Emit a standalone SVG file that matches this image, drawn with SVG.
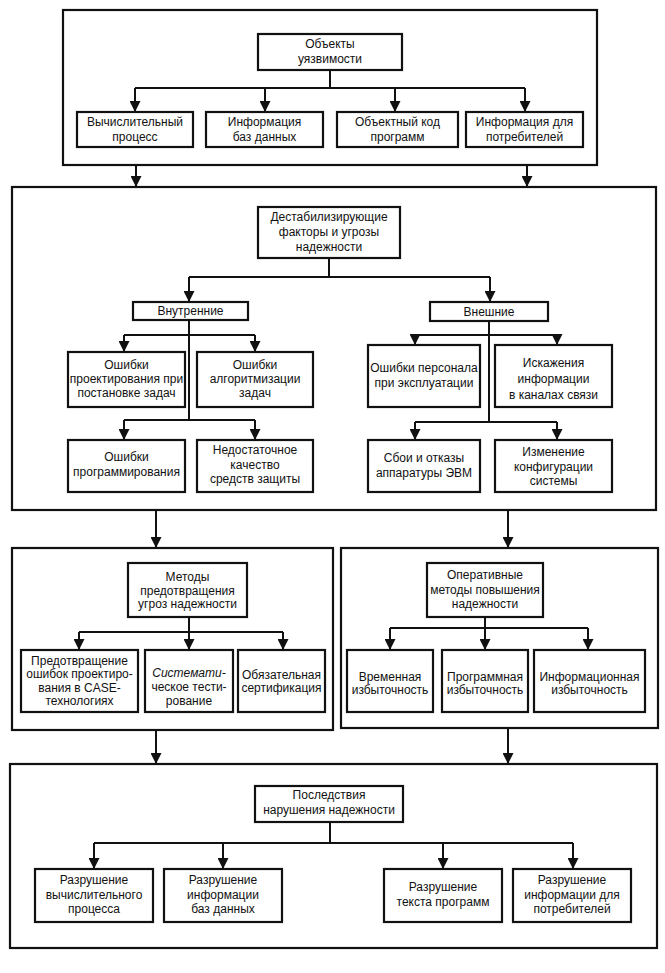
<svg xmlns="http://www.w3.org/2000/svg" width="665" height="973" viewBox="0 0 665 973">
<defs>
<marker id="ah" markerUnits="userSpaceOnUse" markerWidth="11" markerHeight="11" refX="11" refY="5.5" orient="auto" viewBox="0 0 11 11"><path d="M0,0 L11,5.5 L0,11 z" fill="#111"/></marker>
</defs>
<style>
.frame{fill:none;stroke:#111;stroke-width:2.2}
.box{fill:#fff;stroke:#111;stroke-width:2.2}
.t{font-family:"Liberation Sans",Arial,sans-serif;font-size:12px;fill:#111;text-anchor:middle}
.c{fill:none;stroke:#111;stroke-width:2}
.a{fill:none;stroke:#111;stroke-width:2;marker-end:url(#ah)}
.i{font-style:italic}
</style>
<rect width="665" height="973" fill="#fff"/>

<g id="frame-objects"><rect class="frame" x="63" y="10" width="534" height="155"/></g>
<g id="frame-factors"><rect class="frame" x="12" y="187" width="644" height="323"/></g>
<g id="frame-prevention"><rect class="frame" x="12" y="548" width="321" height="182"/></g>
<g id="frame-operative"><rect class="frame" x="341" y="548" width="317" height="180"/></g>
<g id="frame-consequences"><rect class="frame" x="10" y="764" width="647" height="184"/></g>

<g id="connectors">
<path class="c" d="M330,70 V88 M135,88 H525"/>
<path class="a" d="M135,88 V112"/><path class="a" d="M265,88 V112"/><path class="a" d="M395,88 V112"/><path class="a" d="M525,88 V112"/>
<path class="a" d="M136,165 V187"/><path class="a" d="M527,165 V187"/>

<path class="c" d="M329,258 V277 M189,277 H490"/>
<path class="a" d="M189,277 V302"/><path class="a" d="M490,277 V302"/>
<path class="c" d="M189,320 V420 M124,335 H255 M124,420 H255"/>
<path class="a" d="M124,335 V352"/><path class="a" d="M255,335 V352"/>
<path class="a" d="M124,420 V440"/><path class="a" d="M255,420 V440"/>
<path class="c" d="M489,321 V422 M415,335 H557 M415,422 H557"/>
<path class="a" d="M415,335 V345"/><path class="a" d="M557,335 V345"/>
<path class="a" d="M415,422 V440"/><path class="a" d="M557,422 V440"/>
<path class="a" d="M156,510 V548"/><path class="a" d="M508,510 V548"/>

<path class="c" d="M189,617 V632 M79,632 H283"/>
<path class="a" d="M79,632 V650"/><path class="a" d="M189,632 V650"/><path class="a" d="M283,632 V650"/>
<path class="c" d="M485,617 V628 M390,628 H588"/>
<path class="a" d="M390,628 V650"/><path class="a" d="M485,628 V650"/><path class="a" d="M588,628 V650"/>
<path class="a" d="M156,730 V764"/><path class="a" d="M508,728 V764"/>

<path class="c" d="M330,822 V843 M94,843 H573"/>
<path class="a" d="M94,843 V869"/><path class="a" d="M223,843 V869"/><path class="a" d="M443,843 V869"/><path class="a" d="M573,843 V869"/>
</g>

<g id="n-objects"><rect class="box" x="258" y="34" width="144" height="36"/><text class="t" x="330" y="48">Объекты</text><text class="t" x="330" y="63">уязвимости</text></g>
<g id="n-process"><rect class="box" x="77" y="112" width="116" height="35"/><text class="t" x="135" y="126">Вычислительный</text><text class="t" x="135" y="141">процесс</text></g>
<g id="n-db"><rect class="box" x="206" y="112" width="117" height="35"/><text class="t" x="264.5" y="126">Информация</text><text class="t" x="264.5" y="141">баз данных</text></g>
<g id="n-code"><rect class="box" x="337" y="112" width="121" height="35"/><text class="t" x="397.5" y="126">Объектный код</text><text class="t" x="397.5" y="141">программ</text></g>
<g id="n-consumers"><rect class="box" x="466" y="112" width="117" height="35"/><text class="t" x="524.5" y="126">Информация для</text><text class="t" x="524.5" y="141">потребителей</text></g>

<g id="n-destab"><rect class="box" x="258" y="207" width="142" height="51"/><text class="t" x="329" y="221">Дестабилизирующие</text><text class="t" x="329" y="236">факторы и угрозы</text><text class="t" x="329" y="251">надежности</text></g>
<g id="n-internal"><rect class="box" x="133" y="302" width="115" height="18"/><text class="t" x="190.5" y="315">Внутренние</text></g>
<g id="n-external"><rect class="box" x="430" y="302" width="118" height="19"/><text class="t" x="489" y="316">Внешние</text></g>
<g id="n-design"><rect class="box" x="68" y="352" width="117" height="55"/><text class="t" x="126.5" y="369">Ошибки</text><text class="t" x="126.5" y="383">проектирования при</text><text class="t" x="126.5" y="397">постановке задач</text></g>
<g id="n-algo"><rect class="box" x="197" y="352" width="116" height="55"/><text class="t" x="255" y="369">Ошибки</text><text class="t" x="255" y="383">алгоритмизации</text><text class="t" x="255" y="397">задач</text></g>
<g id="n-prog"><rect class="box" x="68" y="440" width="117" height="52"/><text class="t" x="126.5" y="461">Ошибки</text><text class="t" x="126.5" y="476">программирования</text></g>
<g id="n-protect"><rect class="box" x="197" y="440" width="116" height="52"/><text class="t" x="255" y="454">Недостаточное</text><text class="t" x="255" y="469">качество</text><text class="t" x="255" y="483">средств защиты</text></g>
<g id="n-staff"><rect class="box" x="368" y="345" width="112" height="62"/><text class="t" x="424" y="372">Ошибки персонала</text><text class="t" x="424" y="387">при эксплуатации</text></g>
<g id="n-channels"><rect class="box" x="495" y="345" width="117" height="62"/><text class="t" x="553.5" y="367">Искажения</text><text class="t" x="553.5" y="383">информации</text><text class="t" x="553.5" y="399">в каналах связи</text></g>
<g id="n-hardware"><rect class="box" x="368" y="440" width="112" height="52"/><text class="t" x="424" y="462">Сбои и отказы</text><text class="t" x="424" y="477">аппаратуры ЭВМ</text></g>
<g id="n-config"><rect class="box" x="495" y="440" width="117" height="52"/><text class="t" x="553.5" y="456">Изменение</text><text class="t" x="553.5" y="471">конфигурации</text><text class="t" x="553.5" y="485">системы</text></g>

<g id="n-methods"><rect class="box" x="128" y="563" width="119" height="54"/><text class="t" x="187.5" y="581">Методы</text><text class="t" x="187.5" y="595">предотвращения</text><text class="t" x="187.5" y="608">угроз надежности</text></g>
<g id="n-case"><rect class="box" x="21" y="650" width="117" height="62"/><text class="t" x="79.5" y="665">Предотвращение</text><text class="t" x="79.5" y="678">ошибок проектиро-</text><text class="t" x="79.5" y="692">вания в CASE-</text><text class="t" x="79.5" y="705">технологиях</text></g>
<g id="n-testing"><rect class="box" x="145" y="650" width="88" height="62"/><text class="t i" x="189" y="677">Системати-</text><text class="t" x="189" y="691">ческое тести-</text><text class="t" x="189" y="705">рование</text></g>
<g id="n-cert"><rect class="box" x="238" y="650" width="87" height="62"/><text class="t" x="281.5" y="679">Обязательная</text><text class="t" x="281.5" y="692">сертификация</text></g>

<g id="n-operative"><rect class="box" x="427" y="563" width="116" height="54"/><text class="t" x="485" y="579">Оперативные</text><text class="t" x="485" y="594">методы  повышения</text><text class="t" x="485" y="608">надежности</text></g>
<g id="n-time"><rect class="box" x="347" y="650" width="86" height="62"/><text class="t" x="390" y="681">Временная</text><text class="t" x="390" y="694">избыточность</text></g>
<g id="n-progred"><rect class="box" x="442" y="650" width="86" height="62"/><text class="t" x="485" y="681">Программная</text><text class="t" x="485" y="694">избыточность</text></g>
<g id="n-info"><rect class="box" x="534" y="650" width="111" height="62"/><text class="t" x="589.5" y="681">Информационная</text><text class="t" x="589.5" y="694">избыточность</text></g>

<g id="n-conseq"><rect class="box" x="255" y="786" width="148" height="36"/><text class="t" x="329" y="799">Последствия</text><text class="t" x="329" y="814">нарушения надежности</text></g>
<g id="n-d-process"><rect class="box" x="35" y="869" width="118" height="53"/><text class="t" x="94" y="884">Разрушение</text><text class="t" x="94" y="899">вычислительного</text><text class="t" x="94" y="913">процесса</text></g>
<g id="n-d-db"><rect class="box" x="164" y="869" width="118" height="53"/><text class="t" x="223" y="884">Разрушение</text><text class="t" x="223" y="899">информации</text><text class="t" x="223" y="913">баз данных</text></g>
<g id="n-d-text"><rect class="box" x="384" y="869" width="118" height="53"/><text class="t" x="443" y="891">Разрушение</text><text class="t" x="443" y="906">текста программ</text></g>
<g id="n-d-consumers"><rect class="box" x="513" y="869" width="118" height="53"/><text class="t" x="572" y="884">Разрушение</text><text class="t" x="572" y="899">информации для</text><text class="t" x="572" y="913">потребителей</text></g>
</svg>
